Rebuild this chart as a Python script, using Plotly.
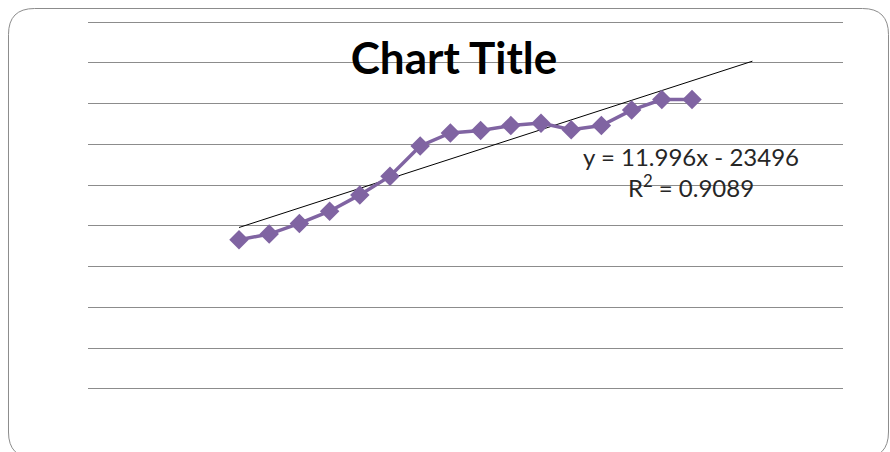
import numpy as np
import plotly.graph_objects as go

# ---- data ----
years = [1996, 1997, 1998, 1999, 2000, 2001, 2002, 2003,
         2004, 2005, 2006, 2007, 2008, 2009, 2010, 2011]
values = [433, 440, 453, 468, 488, 511, 548, 564,
          567, 573, 576, 568, 573, 592, 605, 605]
trend_slope = 11.996
trend_intercept = -23496
trend_r2 = 0.9089
forecast_periods = 2
title_text = "Chart Title"
y_min, y_max, y_step = 250, 700, 50

# ---- layout geometry (pixels) ----
W, H = 890, 452
L, R, T, B = 88, 843, 22, 389
pw, ph = R - L, B - T

def px_x(x):
    return (x - L) / pw

def px_y(y):
    return (B - y) / ph

trend_x = np.array([years[0], years[-1] + forecast_periods], dtype=float)
trend_y = trend_slope * trend_x + trend_intercept

fig = go.Figure()
fig.add_trace(go.Scatter(
    x=trend_x, y=trend_y, mode="lines",
    line=dict(color="#000000", width=1), hoverinfo="skip", showlegend=False))
fig.add_trace(go.Scatter(
    x=years, y=values, mode="lines+markers",
    line=dict(color="#8064A2", width=3.5),
    marker=dict(symbol="diamond", size=15, color="#8064A2"),
    showlegend=False))

# edge gridlines (plotly omits those on the plot-area boundary); half-pixel inset for crispness
half = 0.5 * (y_max - y_min) / ph
for gy in (y_min + half, y_max - half):
    fig.add_shape(type="line", xref="paper", yref="y", x0=0, x1=1, y0=gy, y1=gy,
                  line=dict(color="#8C8C8C", width=1), layer="below")

# rounded border of the chart area (bottom edge falls just outside the view)
x0, x1, y0, y1, r = 8.5, 888.5, 8.5, 458, 26
pts = [
    ("M", x0 + r, y0), ("L", x1 - r, y0), ("Q", x1, y0, x1, y0 + r),
    ("L", x1, y1 - r), ("Q", x1, y1, x1 - r, y1), ("L", x0 + r, y1),
    ("Q", x0, y1, x0, y1 - r), ("L", x0, y0 + r), ("Q", x0, y0, x0 + r, y0),
]
path = ""
for p in pts:
    cmd, coords = p[0], p[1:]
    pairs = []
    for i in range(0, len(coords), 2):
        pairs.append(f"{px_x(coords[i]):.5f},{px_y(coords[i+1]):.5f}")
    path += cmd + " " + " ".join(pairs) + " "
path += "Z"

fig.add_shape(type="path", path=path, xref="paper", yref="paper",
              line=dict(color="#8C8C8C", width=1), fillcolor="rgba(0,0,0,0)",
              layer="above")

fig.add_annotation(
    text=f"y = {trend_slope:.3f}x - {abs(trend_intercept)}<br>R<sup>2</sup> = {trend_r2:.4f}",
    xref="paper", yref="paper", x=px_x(691), y=px_y(172),
    xanchor="center", yanchor="middle", showarrow=False, align="center",
    font=dict(family="Lato, Liberation Sans, sans-serif", size=24, color="#262626"))

fig.update_layout(
    width=W, height=H,
    margin=dict(l=L, r=W - R, t=T, b=H - B),
    paper_bgcolor="white", plot_bgcolor="white",
    title=dict(text=title_text, xref="paper", x=px_x(454), xanchor="center",
               yref="container", y=1 - 59 / H, yanchor="middle",
               font=dict(family="Lato, Liberation Sans, sans-serif", size=44,
                         color="#000000", weight="bold")),
    xaxis=dict(range=[1991, 2016], showgrid=False, zeroline=False,
               showticklabels=False, showline=False, ticks=""),
    yaxis=dict(range=[y_min, y_max], dtick=y_step, tick0=y_min, showgrid=True,
               gridcolor="#8C8C8C", gridwidth=1, zeroline=False,
               showticklabels=False, showline=False, ticks=""),
)

fig.write_html("out.html")
